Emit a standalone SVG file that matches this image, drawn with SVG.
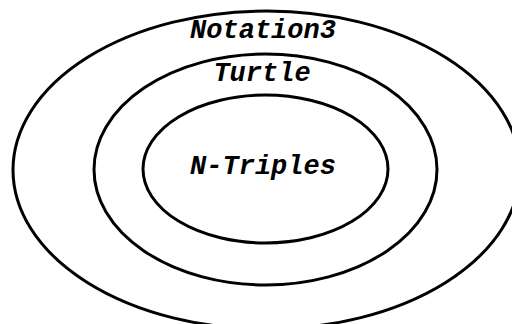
<svg xmlns="http://www.w3.org/2000/svg" width="512" height="324" viewBox="0 0 512 324">
<style>
.e{fill:none;stroke:#000;stroke-width:3}
.t{font-family:"Liberation Mono","Courier New",monospace;font-weight:bold;font-style:italic;font-size:27px;text-anchor:middle;fill:#000}
</style>
<rect width="512" height="324" fill="#fff"/>
<g id="notation3">
<ellipse class="e" cx="266.5" cy="170" rx="253.5" ry="159"/>
<text class="t" x="263" y="38">Notation3</text>
</g>
<g id="turtle">
<ellipse class="e" cx="265.5" cy="169.5" rx="171.5" ry="115.5"/>
<text class="t" x="262" y="81">Turtle</text>
</g>
<g id="ntriples">
<ellipse class="e" cx="265.5" cy="169" rx="122.5" ry="74"/>
<text class="t" x="263" y="174">N-Triples</text>
</g>
<g id="connectors"/>
</svg>
